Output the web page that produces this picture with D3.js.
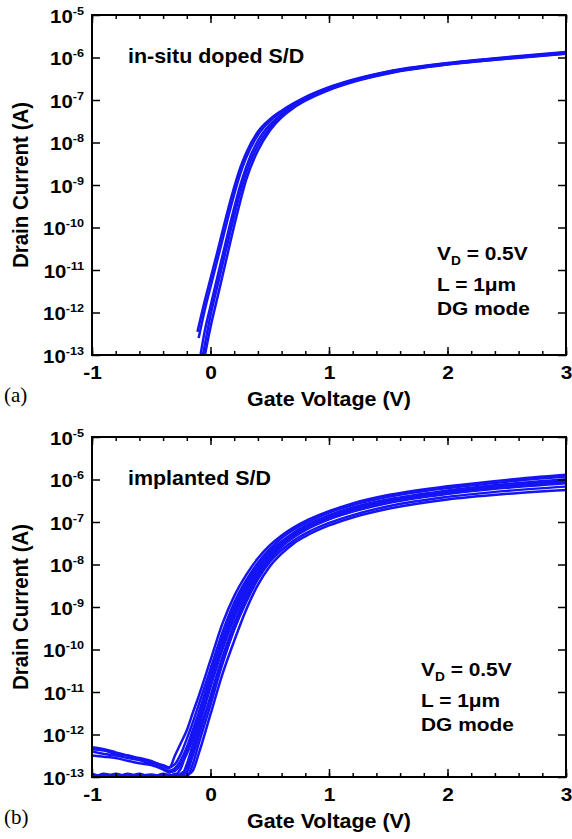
<!DOCTYPE html>
<html><head><meta charset="utf-8">
<script src="https://cdn.jsdelivr.net/npm/d3@7"></script>
<style>body{margin:0;background:#fff}svg{display:block}</style>
</head><body>
<svg id="c" width="572" height="839"></svg>
<script>
// ---------- data ----------
const xTicks = [-1, 0, 1, 2, 3];
const xMinorTicks = [-1, -0.8, -0.6, -0.4, -0.2, 0, 0.2, 0.4, 0.6, 0.8, 1, 1.2, 1.4, 1.6, 1.8, 2, 2.2, 2.4, 2.6, 2.8, 3];
const yDecades = [-5, -6, -7, -8, -9, -10, -11, -12, -13];
const panelTags = ["(a)", "(b)"];
const panelTitles = ["in-situ doped S/D", "implanted S/D"];
const annoLine1 = ["V", "D", " = 0.5V"];
const annoLine2 = "L = 1\u03BCm";
const annoLine3 = "DG mode";
const xTitle = "Gate Voltage (V)";
const yTitle = "Drain Current (A)";

// (a) in-situ doped S/D : [Vg (V), Id (A)]
const curveA1 = [[-0.11,3.5e-13],[-0.05,1.8e-12],[0,6.3e-12],[0.05,2.2e-11],[0.1,7.9e-11],[0.15,2.8e-10],[0.2,8.9e-10],[0.25,2.5e-9],[0.3,5.6e-9],[0.4,1.8e-8],[0.5,3.5e-8],[0.6,5.6e-8],[0.7,8.3e-8],[0.8,1.17e-7],[1.0,2.0e-7],[1.2,3.0e-7],[1.5,4.7e-7],[2.0,7.4e-7],[2.5,1.02e-6],[3.0,1.35e-6]];
const curveA2 = [[-0.1,2.5e-13],[-0.05,1.1e-12],[0,4.0e-12],[0.05,1.4e-11],[0.1,5.0e-11],[0.15,1.8e-10],[0.2,6.0e-10],[0.25,1.8e-9],[0.3,4.3e-9],[0.4,1.5e-8],[0.5,3.2e-8],[0.6,5.3e-8],[0.7,8.0e-8],[0.8,1.13e-7],[1.0,1.95e-7],[1.2,2.9e-7],[1.5,4.6e-7],[2.0,7.3e-7],[2.5,1.0e-6],[3.0,1.32e-6]];
const curveA3 = [[-0.09,8e-14],[-0.05,3.5e-13],[0,1.4e-12],[0.05,5.5e-12],[0.1,2.1e-11],[0.15,8.0e-11],[0.2,2.9e-10],[0.25,9.5e-10],[0.3,2.6e-9],[0.4,1.1e-8],[0.5,2.6e-8],[0.6,4.6e-8],[0.7,7.2e-8],[0.8,1.04e-7],[1.0,1.85e-7],[1.2,2.8e-7],[1.5,4.4e-7],[2.0,7.1e-7],[2.5,9.7e-7],[3.0,1.28e-6]];
const curveA4 = [[-0.07,8e-14],[-0.03,3.2e-13],[0,8.5e-13],[0.05,3.4e-12],[0.1,1.3e-11],[0.15,5.0e-11],[0.2,1.9e-10],[0.25,6.5e-10],[0.3,1.9e-9],[0.4,8.5e-9],[0.5,2.2e-8],[0.6,4.2e-8],[0.7,6.8e-8],[0.8,1.0e-7],[1.0,1.78e-7],[1.2,2.7e-7],[1.5,4.3e-7],[2.0,6.9e-7],[2.5,9.5e-7],[3.0,1.25e-6]];
const curveA5 = [[-0.05,9e-14],[0,4.5e-13],[0.05,1.8e-12],[0.1,7.0e-12],[0.15,2.8e-11],[0.2,1.1e-10],[0.25,4.0e-10],[0.3,1.3e-9],[0.4,6.5e-9],[0.5,1.9e-8],[0.6,3.9e-8],[0.7,6.5e-8],[0.8,9.6e-8],[1.0,1.72e-7],[1.2,2.65e-7],[1.5,4.2e-7],[2.0,6.8e-7],[2.5,9.3e-7],[3.0,1.22e-6]];

// (b) implanted S/D : shared gate-voltage grid and Id per device
const vgB = [-1,-0.9,-0.8,-0.7,-0.6,-0.5,-0.4,-0.35,-0.3,-0.25,-0.2,-0.15,-0.1,0,0.1,0.2,0.3,0.4,0.5,0.6,0.7,0.8,1.0,1.2,1.5,2.0,2.5,3.0];
const idB1 = [5.0e-13,4.5e-13,3.8e-13,3.2e-13,2.8e-13,2.4e-13,1.8e-13,1.6e-13,3.2e-13,6.3e-13,1.26e-12,3.2e-12,7.9e-12,5.6e-11,4.0e-10,1.8e-9,5.6e-9,1.4e-8,2.8e-8,4.8e-8,7.4e-8,1.05e-7,1.8e-7,2.75e-7,4.3e-7,6.9e-7,9.8e-7,1.29e-6];
const idB2 = [4.5e-13,4.2e-13,3.5e-13,3.2e-13,2.6e-13,2.2e-13,1.9e-13,1.7e-13,2.0e-13,3.5e-13,7.9e-13,1.9e-12,5.0e-12,3.5e-11,2.5e-10,1.26e-9,4.2e-9,1.1e-8,2.3e-8,4.2e-8,6.6e-8,9.3e-8,1.66e-7,2.5e-7,3.9e-7,6.3e-7,8.9e-7,1.17e-6];
const idB3 = [4.0e-13,3.5e-13,3.2e-13,2.8e-13,2.5e-13,2.0e-13,1.6e-13,1.4e-13,1.6e-13,2.5e-13,5.0e-13,1.26e-12,3.2e-12,2.5e-11,1.8e-10,1.0e-9,3.5e-9,9.5e-9,2.0e-8,3.5e-8,5.6e-8,8.1e-8,1.45e-7,2.2e-7,3.4e-7,5.5e-7,7.8e-7,1.02e-6];
const idB4 = [3.2e-13,3.0e-13,2.8e-13,2.4e-13,2.1e-13,1.9e-13,1.5e-13,1.3e-13,1.4e-13,2.0e-13,3.5e-13,7.9e-13,2.0e-12,1.6e-11,1.26e-10,7.1e-10,2.8e-9,7.9e-9,1.7e-8,3.2e-8,5.0e-8,7.2e-8,1.26e-7,1.9e-7,3.0e-7,4.8e-7,6.8e-7,8.7e-7];
const idB5 = [1.1e-13,1.0e-13,1.2e-13,1.0e-13,9e-14,1.0e-13,1.15e-13,1.0e-13,1.1e-13,1.6e-13,4.0e-13,1.0e-12,2.5e-12,2.0e-11,1.4e-10,7.9e-10,3.0e-9,8.5e-9,1.8e-8,3.3e-8,5.2e-8,7.6e-8,1.35e-7,2.0e-7,3.2e-7,5.2e-7,7.4e-7,9.5e-7];
const idB6 = [9e-14,1.2e-13,1.05e-13,9e-14,1.1e-13,9.5e-14,1.2e-13,1.1e-13,9e-14,1.0e-13,2.0e-13,5.6e-13,1.5e-12,1.3e-11,1.0e-10,5.6e-10,2.3e-9,7.0e-9,1.6e-8,3.0e-8,4.8e-8,7.0e-8,1.25e-7,1.9e-7,3.0e-7,4.9e-7,7.0e-7,9.0e-7];
const idB7 = [1.0e-13,9e-14,1.0e-13,1.15e-13,1.0e-13,1.1e-13,9e-14,1.0e-13,1.2e-13,1.1e-13,1.3e-13,3.2e-13,9e-13,8.0e-12,6.5e-11,4.0e-10,1.8e-9,6.0e-9,1.45e-8,2.8e-8,4.6e-8,6.8e-8,1.2e-7,1.8e-7,2.9e-7,4.7e-7,6.7e-7,8.6e-7];
const idB8 = [1.2e-13,1.0e-13,9e-14,1.0e-13,1.2e-13,1.0e-13,1.05e-13,9e-14,1.0e-13,9e-14,1.0e-13,2.0e-13,6.0e-13,5.0e-12,4.5e-11,3.0e-10,1.4e-9,5.0e-9,1.3e-8,2.6e-8,4.3e-8,6.4e-8,1.15e-7,1.75e-7,2.8e-7,4.6e-7,6.4e-7,8.2e-7];
const idB9 = [9.5e-14,1.1e-13,1.0e-13,1.2e-13,1.0e-13,9e-14,1.0e-13,1.15e-13,1.0e-13,1.2e-13,1.6e-13,4.0e-13,1.1e-12,7.0e-12,5.0e-11,3.0e-10,1.3e-9,4.5e-9,1.15e-8,2.2e-8,3.6e-8,5.3e-8,9.5e-8,1.45e-7,2.35e-7,3.9e-7,5.4e-7,6.8e-7];
const idB10 = [1.0e-13,1.1e-13,1.1e-13,9.5e-14,1.05e-13,1.15e-13,1.0e-13,1.0e-13,1.1e-13,1.0e-13,1.1e-13,1.4e-13,3.5e-13,3.0e-12,2.6e-11,1.6e-10,8.5e-10,3.3e-9,9.0e-9,1.8e-8,3.1e-8,4.6e-8,8.3e-8,1.28e-7,2.05e-7,3.4e-7,4.6e-7,5.7e-7];

const seriesA = [curveA1, curveA2, curveA3, curveA4, curveA5];
const seriesB = [idB1, idB2, idB3, idB4, idB5, idB6, idB7, idB8, idB9, idB10].map(arr => vgB.map((v, i) => [v, arr[i]]));

// ---------- drawing ----------
const svg = d3.select("#c");
const FONT = "'Liberation Sans', Arial, sans-serif";
const BLUE = "#1414f5";
const panels = [
  {top: 15, bottom: 355, series: seriesA, annoX: 437, annoDy: 245},
  {top: 437, bottom: 777, series: seriesB, annoX: 421, annoDy: 239}
];
const L = 92, R = 566;
const SX = 1.1; // horizontal stretch of the lettering

function stretched(g, x, y) {
  return g.append("g").attr("transform", `translate(${x},${y}) scale(${SX},1)`);
}

panels.forEach((p, pi) => {
  const g = svg.append("g");
  const x = d3.scaleLinear().domain([-1, 3]).range([L, R]);
  const y = d3.scaleLog().domain([1e-13, 1e-5]).range([p.bottom, p.top]);

  const clipId = "clip" + pi;
  svg.append("clipPath").attr("id", clipId).append("rect")
    .attr("x", L).attr("y", p.top).attr("width", R - L).attr("height", p.bottom - p.top);

  const line = d3.line().x(d => x(d[0])).y(d => y(d[1])).curve(d3.curveMonotoneX);
  g.append("g").attr("clip-path", `url(#${clipId})`)
    .selectAll("path").data(p.series).join("path")
    .attr("d", line).attr("fill", "none").attr("stroke", BLUE)
    .attr("stroke-width", 2.5).attr("stroke-linejoin", "round");

  const majorY = yDecades.map(e => Math.pow(10, e));
  const minorY = [];
  yDecades.forEach(e => { if (e > -5) for (let k = 2; k <= 9; k++) minorY.push(k * Math.pow(10, e)); });

  const styleAxis = sel => { sel.select(".domain").remove(); sel.selectAll("line").attr("stroke", "#000").attr("stroke-width", 1.5); };

  // bottom
  g.append("g").attr("transform", `translate(0,${p.bottom})`)
    .call(d3.axisBottom(x).tickValues(xMinorTicks).tickSize(-4).tickFormat("")).call(styleAxis);
  const xb = g.append("g").attr("transform", `translate(0,${p.bottom})`)
    .call(d3.axisBottom(x).tickValues(xTicks).tickSizeInner(-8).tickSizeOuter(0).tickFormat(""))
    .call(styleAxis);
  xb.selectAll(".tick").each(function(d) {
    d3.select(this).select("text").remove();
    stretched(d3.select(this), 0, 24).append("text").attr("text-anchor", "middle")
      .attr("font-family", FONT).attr("font-weight", "bold").attr("font-size", 19).attr("fill", "#000")
      .text(String(d));
  });
  // top
  g.append("g").attr("transform", `translate(0,${p.top})`)
    .call(d3.axisTop(x).tickValues(xMinorTicks).tickSize(-4).tickFormat("")).call(styleAxis);
  g.append("g").attr("transform", `translate(0,${p.top})`)
    .call(d3.axisTop(x).tickValues(xTicks).tickSize(-8).tickFormat("")).call(styleAxis);
  // left
  g.append("g").attr("transform", `translate(${L},0)`)
    .call(d3.axisLeft(y).tickValues(minorY).tickSize(-4).tickFormat("")).call(styleAxis);
  const yl = g.append("g").attr("transform", `translate(${L},0)`)
    .call(d3.axisLeft(y).tickValues(majorY).tickSizeInner(-8).tickSizeOuter(0).tickFormat(""))
    .call(styleAxis);
  yl.selectAll(".tick").each(function(d) {
    d3.select(this).select("text").remove();
    const t = stretched(d3.select(this), -8, 7).append("text")
      .attr("font-family", FONT).attr("font-weight", "bold").attr("fill", "#000").attr("text-anchor", "end");
    t.append("tspan").attr("font-size", 18.5).text("10");
    t.append("tspan").attr("font-size", 11.5).attr("dy", -8).text(String(Math.round(Math.log10(d))));
  });
  // right
  g.append("g").attr("transform", `translate(${R},0)`)
    .call(d3.axisRight(y).tickValues(minorY).tickSize(-4).tickFormat("")).call(styleAxis);
  g.append("g").attr("transform", `translate(${R},0)`)
    .call(d3.axisRight(y).tickValues(majorY).tickSize(-8).tickFormat("")).call(styleAxis);

  // frame
  g.append("rect").attr("x", L).attr("y", p.top).attr("width", R - L).attr("height", p.bottom - p.top)
    .attr("fill", "none").attr("stroke", "#000").attr("stroke-width", 2);

  // titles
  stretched(g, (L + R) / 2, p.bottom + 51).append("text").attr("text-anchor", "middle")
    .attr("font-family", FONT).attr("font-weight", "bold").attr("font-size", 19.5).text(xTitle);
  g.append("text").attr("transform", `translate(28,${(p.top + p.bottom) / 2}) rotate(-90) scale(1,${SX})`).attr("text-anchor", "middle")
    .attr("font-family", FONT).attr("font-weight", "bold").attr("font-size", 20.5).text(yTitle);
  g.append("text").attr("x", 4).attr("y", p.bottom + 47)
    .attr("font-family", "'Liberation Serif', 'Times New Roman', serif").attr("font-size", 21).text(panelTags[pi]);

  // annotations
  stretched(g, 128, p.top + 48).append("text")
    .attr("font-family", FONT).attr("font-weight", "bold").attr("font-size", 19.5).text(panelTitles[pi]);
  const ax = p.annoX, ay = p.top + p.annoDy;
  const t1 = stretched(g, ax, ay).append("text")
    .attr("font-family", FONT).attr("font-weight", "bold").attr("font-size", 19);
  t1.append("tspan").text(annoLine1[0]);
  t1.append("tspan").attr("font-size", 12.5).attr("dy", 5).text(annoLine1[1]);
  t1.append("tspan").attr("dy", -5).text(annoLine1[2]);
  stretched(g, ax, ay + 31).append("text")
    .attr("font-family", FONT).attr("font-weight", "bold").attr("font-size", 19).text(annoLine2);
  stretched(g, ax, ay + 55).append("text")
    .attr("font-family", FONT).attr("font-weight", "bold").attr("font-size", 19).text(annoLine3);
});
</script>
</body></html>
